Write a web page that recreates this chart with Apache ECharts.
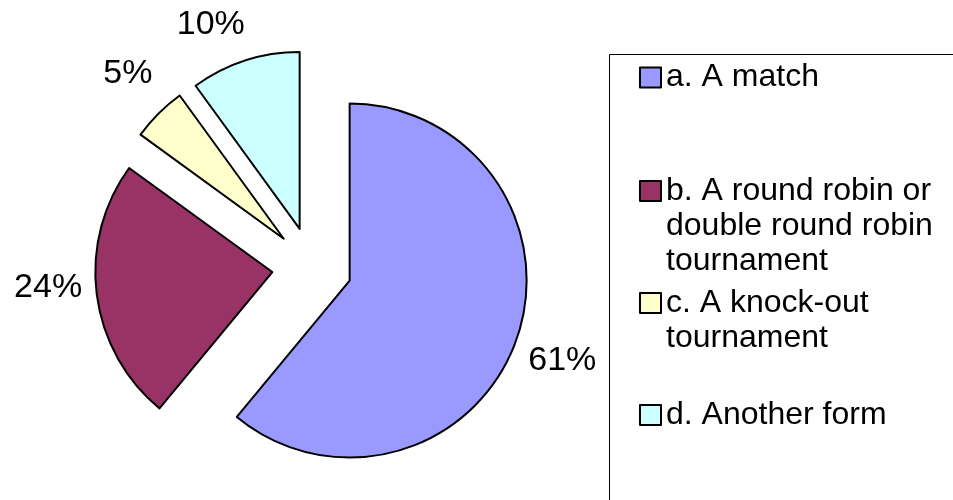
<!DOCTYPE html>
<html><head><meta charset="utf-8">
<script src="https://cdn.jsdelivr.net/npm/echarts@6/dist/echarts.min.js"></script>
<style>html,body{margin:0;padding:0;background:#fff}#c{width:953px;height:500px}</style>
</head><body><div id="c"></div>
<script>
const categories = ['a. A match', 'b. A round robin or double round robin tournament', 'c. A knock-out tournament', 'd. Another form'];
const legendLabels = ['a. A match', 'b. A round robin or\ndouble round robin\ntournament', 'c. A knock-out\ntournament', 'd. Another form'];
const percentValues = [61, 24, 5, 10];
const sliceColors = ['#9999FF', '#993366', '#FFFFCC', '#CCFFFF'];

const FONT = '"Liberation Sans", Arial, sans-serif';
const LINE_H = 35;
const chart = echarts.init(document.getElementById('c'), null, {renderer: 'canvas'});
const legendTops = [60, 172.5, 284.5, 397.5];
const legends = categories.map((name, i) => {
  const lines = legendLabels[i].split('\n').length;
  const h = lines * LINE_H;
  // square aligned with the first text line; invisible zero-length subpaths stretch the box
  const icon = lines > 1
    ? 'path://M0,7.5H21V27.5H0Z M0,0L0,0 M0,' + h + 'L0,' + h
    : 'rect';
  return {
    data: [name], left: 639, top: legendTops[i], orient: 'vertical', padding: 0,
    itemWidth: 21, itemHeight: lines > 1 ? h : 20, icon, selectedMode: false,
    itemStyle: {borderColor: '#000', borderWidth: 2},
    formatter: n => legendLabels[categories.indexOf(n)],
    textStyle: {fontFamily: FONT, fontSize: 32, lineHeight: LINE_H, color: '#000'}
  };
});
const labelShift = [[0, 4], [0, -13], [4, -5], [-19, 11]];
chart.setOption({
  animation: false,
  legend: legends,
  graphic: [{
    type: 'rect', silent: true,
    shape: {x: 609.5, y: 54.5, width: 400, height: 500},
    style: {fill: 'none', stroke: '#000', lineWidth: 1}
  }],
  series: [{
    type: 'pie', center: [312, 267], radius: 177, startAngle: 90, clockwise: true,
    selectedMode: 'multiple', selectedOffset: 40, avoidLabelOverlap: false,
    data: categories.map((name, i) => ({name, value: percentValues[i], selected: true, itemStyle: {color: sliceColors[i]}})),
    itemStyle: {borderColor: '#000', borderWidth: 2},
    label: {show: true, position: 'outside', formatter: '{c}%', fontFamily: FONT, fontSize: 34, color: '#000', distanceToLabelLine: 0, width: 100},
    labelLine: {show: false, length: 49, length2: 0},
    labelLayout: p => ({align: 'center', dx: labelShift[p.dataIndex][0], dy: labelShift[p.dataIndex][1]}),
    emphasis: {disabled: true}
  }]
});
</script></body></html>
